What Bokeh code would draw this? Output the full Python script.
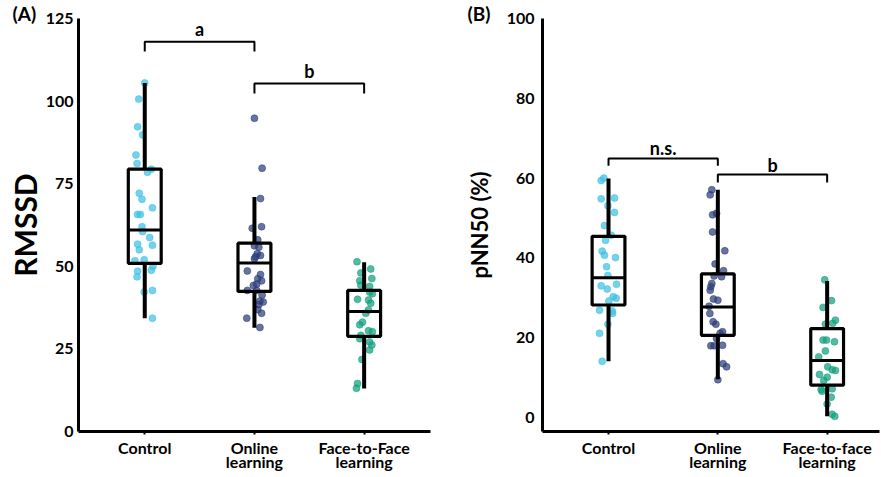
import numpy as np
from bokeh.plotting import figure
from bokeh.layouts import row
from bokeh.models import FixedTicker, Range1d, Title
from bokeh.embed import file_html
from bokeh.resources import INLINE
from bokeh.core.properties import value

FONT = "Lato"

# ---------------- data ----------------
labels_A = ["Control", "Online\nlearning", "Face-to-Face\nlearning"]
labels_B = ["Control", "Online\nlearning", "Face-to-face\nlearning"]
group_colors = ["#3EC1E6", "#2C3E7A", "#13A07F"]

# Panel A: RMSSD individual values and horizontal jitter (category units)
rmssd_control = [105.5, 100.6, 92.2, 89.8, 83.7, 81.1, 79.4, 78.5, 72.1, 70.3, 67.7, 65.7, 65.7, 62.0,
                 60.5, 58.7, 56.7, 55.0, 56.4, 52.0, 51.7, 50.0, 48.5, 46.8, 48.8, 42.7, 42.2, 34.3]
rmssd_control_jit = [0.0, -0.055, -0.065, -0.02, -0.08, -0.07, 0.06, 0.025, -0.05, -0.025, 0.07, -0.065, -0.04,
                     -0.025, -0.02, 0.045, -0.065, -0.05, 0.07, -0.005, -0.09, 0.075, -0.065, -0.07, 0.06, 0.07,
                     -0.005, 0.07]
rmssd_online = [94.8, 79.7, 70.5, 62.0, 61.5, 58.0, 56.2, 55.8, 53.8, 53.3, 52.3, 48.6, 47.5, 46.2, 45.6,
                44.6, 42.7, 42.7, 41.3, 39.5, 39.2, 38.4, 36.9, 35.8, 34.3, 31.5, 52.9, 44.2]
rmssd_online_jit = [0.0, 0.07, 0.055, 0.065, -0.02, 0.03, 0.0, 0.04, 0.025, 0.055, 0.0, -0.065, 0.055, 0.03,
                    0.065, 0.02, -0.065, 0.02, 0.07, 0.05, 0.08, 0.04, 0.03, 0.065, -0.07, 0.05, 0.01, -0.01]
rmssd_f2f = [51.4, 49.2, 48.0, 46.3, 45.6, 44.3, 43.9, 42.2, 41.7, 40.0, 39.8, 38.8, 36.8, 35.8, 33.1, 32.3,
             30.5, 30.2, 29.1, 28.1, 27.1, 26.2, 24.7, 21.8, 14.5, 13.1]
rmssd_f2f_jit = [-0.065, 0.06, -0.03, 0.07, -0.04, -0.03, 0.05, 0.05, 0.075, -0.06, 0.04, 0.06, 0.04, 0.015,
                 -0.015, -0.04, 0.04, 0.075, -0.03, -0.04, 0.05, 0.07, 0.05, -0.02, -0.06, -0.07]
# box stats: lower whisker, Q1, median, Q3, upper whisker
rmssd_box_control = [34.3, 50.9, 61.0, 79.4, 105.5]
rmssd_box_online = [31.4, 42.4, 51.0, 57.0, 71.0]
rmssd_box_f2f = [13.0, 28.8, 36.3, 42.7, 51.2]

# Panel B: pNN50 (%)
pnn_control = [60.0, 59.4, 54.8, 55.0, 53.1, 51.4, 48.1, 45.7, 44.4, 41.7, 40.7, 40.1, 37.8, 35.6, 33.0, 33.4,
               32.2, 30.3, 29.9, 29.2, 26.9, 26.7, 26.1, 23.4, 21.1, 14.1]
pnn_control_jit = [-0.043, -0.067, -0.067, 0.055, -0.006, 0.055, -0.037, 0.025, -0.027, -0.058, -0.037, 0.064,
                   -0.018, -0.006, -0.067, 0.073, -0.012, 0.043, 0.07, 0.003, -0.082, 0.034, 0.037, -0.006,
                   -0.082, -0.058]
pnn_online = [57.1, 55.8, 50.8, 51.2, 46.5, 41.8, 38.5, 36.8, 35.5, 35.3, 33.6, 32.8, 31.9, 29.7, 29.4, 27.9,
              26.1, 24.0, 23.4, 21.5, 21.1, 19.8, 18.0, 18.0, 18.1, 13.5, 12.7, 9.5]
pnn_online_jit = [-0.055, -0.07, -0.048, -0.012, -0.048, 0.064, -0.025, 0.052, -0.034, 0.034, -0.055, -0.064,
                  -0.07, -0.04, 0.0, -0.08, -0.073, -0.043, -0.018, 0.043, 0.021, -0.012, -0.064, -0.034, 0.043,
                  0.048, 0.08, 0.0]
pnn_f2f = [34.5, 29.3, 27.6, 24.4, 23.6, 23.4, 19.4, 19.4, 19.0, 16.7, 15.2, 12.7, 12.0, 11.8, 10.8, 10.1, 9.3,
           7.2, 7.0, 6.6, 5.1, 3.4, 0.8, 0.3]
pnn_f2f_jit = [-0.022, 0.04, -0.037, 0.076, 0.051, -0.016, -0.037, -0.006, 0.067, -0.016, -0.077, 0.005, 0.046,
               0.076, -0.07, 0.0, -0.031, 0.046, -0.055, -0.046, 0.037, 0.0, 0.046, 0.07]
pnn_box_control = [14.1, 28.2, 35.0, 45.4, 59.9]
pnn_box_online = [9.6, 20.6, 27.7, 36.0, 57.1]
pnn_box_f2f = [0.3, 8.1, 14.3, 22.3, 34.2]

# significance brackets: (from group, to group, height, leg drop, text height, text)
brackets_A = [(1, 2, 118.0, 3.0, 121.8, "a"), (2, 3, 105.3, 3.0, 109.0, "b")]
brackets_B = [(1, 2, 64.9, 1.8, 67.6, "n.s."), (2, 3, 60.9, 2.0, 63.4, "b")]


def make_panel(width, border_left, border_right, x_rng, y_rng, y_ticks, tick_labels, groups, jits, boxes,
               brackets, ylabel_standoff, panel_tag, tag_offset):
    p = figure(width=width, height=477, output_backend="svg", toolbar_location=None,
               x_range=Range1d(*x_rng), y_range=Range1d(*y_rng),
               min_border_left=border_left, min_border_right=border_right, min_border_top=18,
               min_border_bottom=46)
    p.outline_line_color = None
    p.grid.visible = False
    p.background_fill_color = "white"

    p.add_layout(Title(text=panel_tag, align="left", offset=tag_offset, standoff=-13,
                       text_font=FONT, text_font_style="bold", text_font_size="19px",
                       text_color="black"), "above")

    for i, (vals, jit, box, col) in enumerate(zip(groups, jits, boxes, group_colors)):
        cx = i + 1
        xs = [cx + j for j in jit]
        p.scatter(xs, vals, size=7, fill_color=col, line_color=col, fill_alpha=0.72, line_alpha=0.5)
        lo, q1, med, q3, hi = box
        p.segment(x0=[cx, cx], y0=[q3, q1], x1=[cx, cx], y1=[hi, lo], line_color="black", line_width=4)
        p.quad(left=[cx - 0.15], right=[cx + 0.15], bottom=[q1], top=[q3], fill_color=None,
               line_color="black", line_width=3.2)
        p.segment(x0=[cx - 0.15], y0=[med], x1=[cx + 0.15], y1=[med], line_color="black", line_width=3)

    for (a, b, h, d, th, t) in brackets:
        p.line([a, a, b, b], [h - d, h, h, h - d], line_color="black", line_width=2)
        p.text(x=[(a + b) / 2], y=[th], text=[t], text_align="center", text_baseline="middle",
               text_font=value(FONT), text_font_style="bold", text_font_size="18px", text_color="black")

    p.xaxis.ticker = FixedTicker(ticks=[1, 2, 3])
    p.xaxis.major_label_overrides = {1: tick_labels[0], 2: tick_labels[1], 3: tick_labels[2]}
    p.xaxis.major_label_text_font = FONT
    p.xaxis.major_label_text_font_style = "bold"
    p.xaxis.major_label_text_font_size = "16px"
    p.xaxis.major_label_text_line_height = 0.78
    p.xaxis.major_label_text_color = "black"
    p.xaxis.major_label_standoff = 3
    p.xaxis.major_tick_out = 3
    p.xaxis.major_tick_in = 0
    p.xaxis.major_tick_line_width = 2
    p.xaxis.minor_tick_line_color = None
    p.xaxis.axis_line_width = 3

    p.yaxis.ticker = FixedTicker(ticks=y_ticks)
    p.yaxis.major_label_text_font = FONT
    p.yaxis.major_label_text_font_style = "bold"
    p.yaxis.major_label_text_font_size = "16px"
    p.yaxis.major_label_text_color = "black"
    p.yaxis.major_label_standoff = ylabel_standoff
    p.yaxis.major_tick_out = 0
    p.yaxis.major_tick_in = 0
    p.yaxis.minor_tick_line_color = None
    p.yaxis.axis_line_width = 3
    p.yaxis.axis_label_text_font = FONT
    p.yaxis.axis_label_text_font_style = "bold"
    p.yaxis.axis_label_text_color = "black"
    return p


pA = make_panel(448, 78, 18, (0.396, 3.605), (0, 125), [0, 25, 50, 75, 100, 125], labels_A,
                [rmssd_control, rmssd_online, rmssd_f2f],
                [rmssd_control_jit, rmssd_online_jit, rmssd_f2f_jit],
                [rmssd_box_control, rmssd_box_online, rmssd_box_f2f], brackets_A, 5, "(A)", -66)
pA.yaxis.axis_label = "RMSSD"
pA.yaxis.axis_label_text_font_size = "30px"
pA.yaxis.axis_label_standoff = 0

pB = make_panel(433, 94, 2, (0.396, 3.479), (-3.5, 100), [0, 20, 40, 60, 80, 100], labels_B,
                [pnn_control, pnn_online, pnn_f2f],
                [pnn_control_jit, pnn_online_jit, pnn_f2f_jit],
                [pnn_box_control, pnn_box_online, pnn_box_f2f], brackets_B, 8, "(B)", -75)
pB.yaxis.axis_label = "pNN50 (%)"
pB.yaxis.axis_label_text_font_size = "22px"
pB.yaxis.axis_label_standoff = 11

layout = row(pA, pB)
open("out.html", "w").write(file_html(layout, INLINE))
